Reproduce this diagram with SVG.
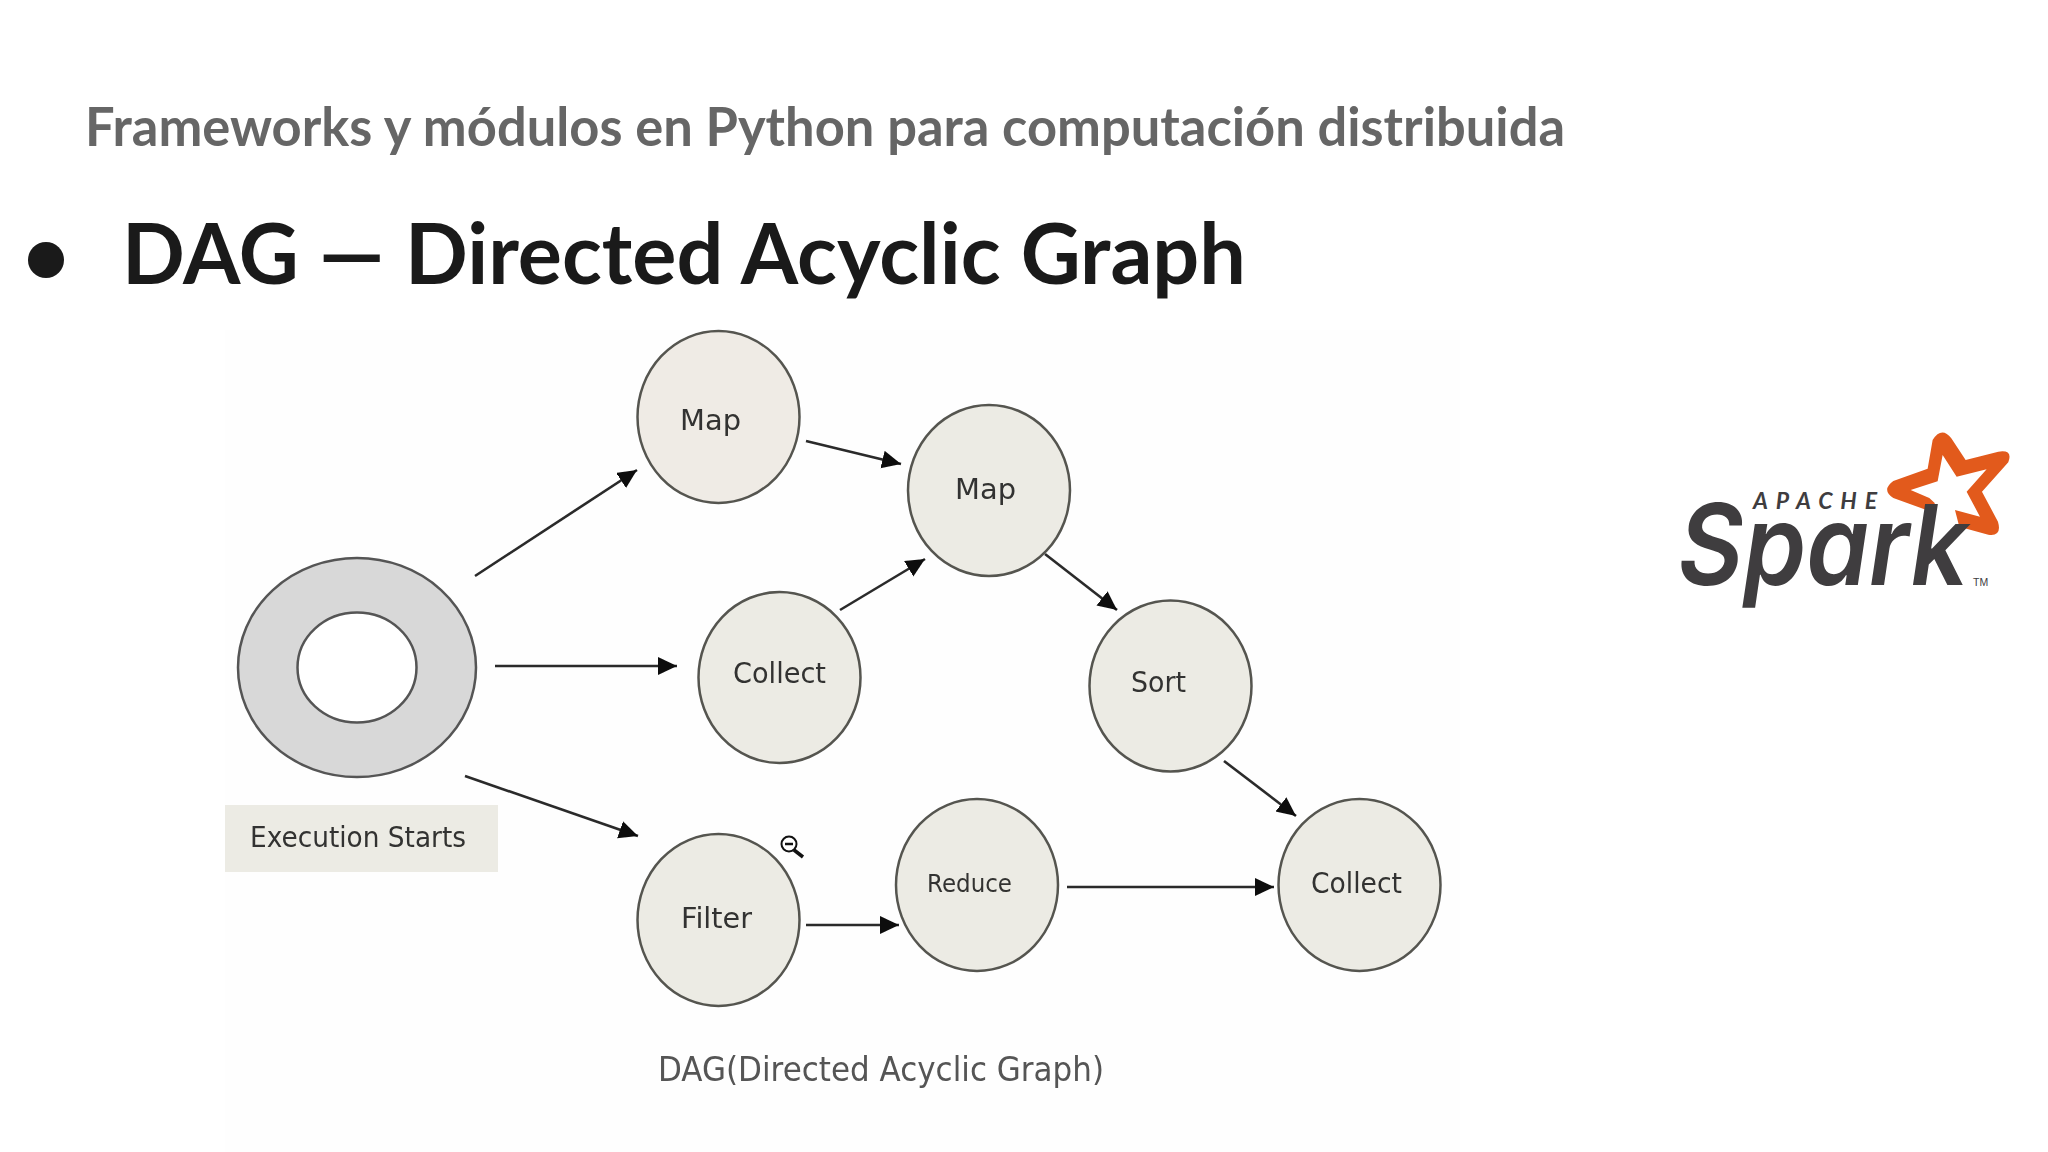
<svg xmlns="http://www.w3.org/2000/svg" width="2048" height="1152" viewBox="0 0 2048 1152">
<style>
.title{font-family:"Lato","Liberation Sans",sans-serif;font-weight:700;font-size:53px;fill:#666666}
.head{font-family:"Lato","Liberation Sans",sans-serif;font-weight:700;font-size:85px;fill:#1a1a1a}
.n{fill:#ecebe4;stroke:#555550;stroke-width:2.5}
.t{font-family:"DejaVu Sans","Liberation Sans",sans-serif;font-size:28px;fill:#333330}
.c{fill:none;stroke:#2a2a2a;stroke-width:2.6;marker-end:url(#ah)}
</style>
<defs>
<marker id="ah" markerUnits="userSpaceOnUse" markerWidth="22" markerHeight="20" refX="19" refY="9" orient="auto"><path d="M0,0 L19,9 L0,18 Z" fill="#111"/></marker>
<filter id="soft" x="-2%" y="-2%" width="104%" height="104%"><feGaussianBlur stdDeviation="0.6"/></filter>
</defs>
<rect width="2048" height="1152" fill="#ffffff"/>
<rect x="225" y="330" width="1235" height="822" fill="#fefefe"/>
<text class="title" x="85" y="146" textLength="1480" lengthAdjust="spacingAndGlyphs">Frameworks y módulos en Python para computación distribuida</text>
<circle cx="46" cy="260" r="18" fill="#1a1a1a"/>
<text class="head" x="122" y="284" textLength="1124" lengthAdjust="spacingAndGlyphs">DAG — Directed Acyclic Graph</text>
<g filter="url(#soft)">
<g id="connectors">
<line class="c" x1="475" y1="576" x2="637" y2="470"/>
<line class="c" x1="495" y1="666" x2="677" y2="666"/>
<line class="c" x1="465" y1="776" x2="638" y2="836"/>
<line class="c" x1="806" y1="441" x2="901" y2="464"/>
<line class="c" x1="840" y1="610" x2="925" y2="559"/>
<line class="c" x1="1045" y1="554" x2="1117" y2="610"/>
<line class="c" x1="1224" y1="761" x2="1296" y2="816"/>
<line class="c" x1="806" y1="925" x2="899" y2="925"/>
<line class="c" x1="1067" y1="887" x2="1274" y2="887"/>
</g>
<g id="start"><ellipse cx="357" cy="667.5" rx="119" ry="109.5" fill="#d8d8d8" stroke="#555" stroke-width="2.5"/><ellipse cx="357" cy="667.5" rx="59.5" ry="55" fill="#fff" stroke="#555" stroke-width="2.5"/></g>
<g id="start-label"><rect x="225" y="805" width="273" height="67" fill="#ecebe4"/><text class="t" x="250" y="847" textLength="216" lengthAdjust="spacingAndGlyphs">Execution Starts</text></g>
<g id="map1"><ellipse class="n" cx="718.5" cy="417" rx="81" ry="86" style="fill:#efebe5"/><text class="t" x="680" y="430" textLength="61" lengthAdjust="spacingAndGlyphs">Map</text></g>
<g id="map2"><ellipse class="n" cx="989" cy="490.5" rx="81" ry="85.5"/><text class="t" x="955" y="499" textLength="61" lengthAdjust="spacingAndGlyphs">Map</text></g>
<g id="collect1"><ellipse class="n" cx="779.5" cy="677.5" rx="81" ry="85.5"/><text class="t" x="733" y="683" textLength="93" lengthAdjust="spacingAndGlyphs">Collect</text></g>
<g id="sort"><ellipse class="n" cx="1170.5" cy="686" rx="81" ry="85.5"/><text class="t" x="1131" y="692" textLength="55" lengthAdjust="spacingAndGlyphs">Sort</text></g>
<g id="filter"><ellipse class="n" cx="718.5" cy="920" rx="81" ry="86"/><text class="t" x="681" y="928" textLength="71" lengthAdjust="spacingAndGlyphs">Filter</text></g>
<g id="reduce"><ellipse class="n" cx="977" cy="885" rx="81" ry="86"/><text class="t" x="927" y="892" textLength="85" style="font-size:24px" lengthAdjust="spacingAndGlyphs">Reduce</text></g>
<g id="collect2"><ellipse class="n" cx="1359.5" cy="885" rx="81" ry="86"/><text class="t" x="1311" y="893" textLength="91" lengthAdjust="spacingAndGlyphs">Collect</text></g>
<text class="t" x="658" y="1081" textLength="446" lengthAdjust="spacingAndGlyphs" style="font-size:33px;fill:#555">DAG(Directed Acyclic Graph)</text>
</g>
<g id="cursor" fill="none" stroke="#111">
<circle cx="789" cy="844" r="7.5" stroke-width="2" fill="#fff"/>
<line x1="785" y1="844" x2="793" y2="844" stroke-width="2.5"/>
<line x1="794" y1="850" x2="803" y2="857" stroke-width="3.5"/>
</g>
<g id="spark-logo">
<path transform="translate(1640,410) scale(0.3333)" fill="#e25a1c" fill-rule="evenodd" d="M878,90 Q905,48 934,85 L977,150 L1075,125 Q1120,118 1105,157 L1026,245 L1074,335 Q1087,380 1045,374 L958,350 L945,300 L1020,320 L980,245 L1040,178 L950,200 L908,135 L893,214 L812,240 L868,264 L885,280 L865,302 L760,264 Q723,240 760,213 L863,176 Z"/>
<text x="1753" y="509" style="font-family:'Lato','Liberation Sans',sans-serif;font-weight:700;font-style:italic;font-size:23px;fill:#3f3d3f" textLength="124" lengthAdjust="spacing">APACHE</text>
<text x="1678" y="585" style="font-family:'Inter','Liberation Sans',sans-serif;font-weight:600;font-style:italic;font-size:112px;fill:#3f3d3f" textLength="290" lengthAdjust="spacingAndGlyphs">Spark</text>
<text x="1973" y="586" style="font-family:'Liberation Sans',sans-serif;font-size:10.5px;fill:#3f3d3f">TM</text>
</g>
</svg>
